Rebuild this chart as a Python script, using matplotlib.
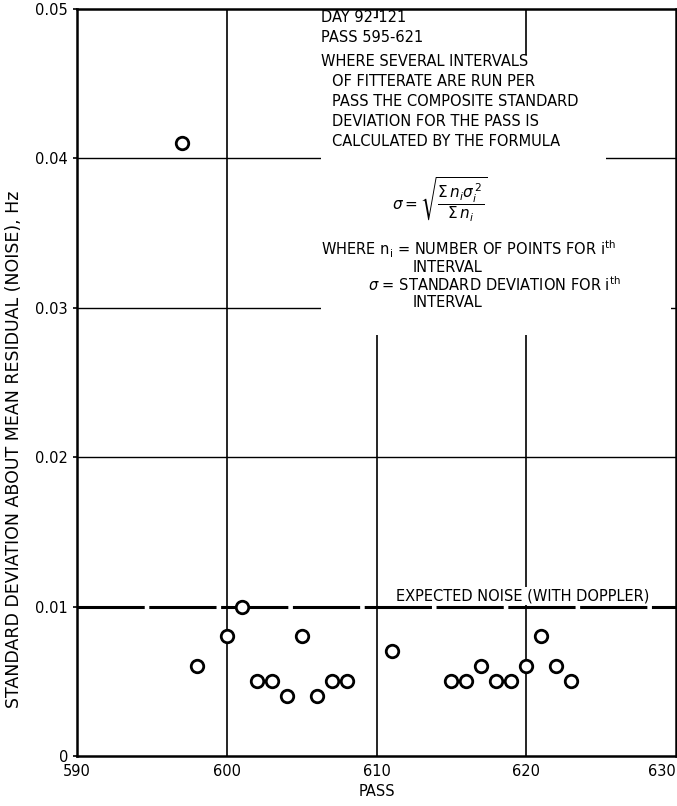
import matplotlib
matplotlib.use('Agg')
import matplotlib.pyplot as plt
from matplotlib.patches import Rectangle

plt.rcParams['font.family'] = ['DejaVu Sans']
plt.rcParams['mathtext.fontset'] = 'dejavusans'

# data
passes = [597, 598, 600, 601, 602, 603, 604, 605, 606, 607, 608, 611,
          615, 616, 617, 618, 619, 620, 621, 622, 623]
noise = [0.041, 0.006, 0.008, 0.010, 0.005, 0.005, 0.004, 0.008, 0.004, 0.005, 0.005, 0.007,
         0.005, 0.005, 0.006, 0.005, 0.005, 0.006, 0.008, 0.006, 0.005]
expected_noise = 0.01
x_ticks = [590, 600, 610, 620, 630]
y_ticks = [0, 0.01, 0.02, 0.03, 0.04, 0.05]
y_tick_labels = ['0', '0.01', '0.02', '0.03', '0.04', '0.05']

fig = plt.figure(figsize=(6.77, 8.06), dpi=100)
ax = fig.add_axes([0.1137, 0.062, 0.885, 0.927])

ax.set_xlim(590, 630)
ax.set_ylim(0, 0.05)

# grid
for xv in x_ticks[1:-1]:
    ax.axvline(xv, color='black', lw=1.2, zorder=1)
for yv in y_ticks[2:-1]:
    ax.axhline(yv, color='black', lw=1.0, zorder=1)

# white area behind the note
for x0, y0, w, h in [(0.408, 0.5636, 0.34, 0.4245),
                     (0.748, 0.5636, 0.135, 0.375),
                     (0.883, 0.5636, 0.108, 0.214)]:
    ax.add_patch(Rectangle((x0, y0), w, h, transform=ax.transAxes,
                           facecolor='white', edgecolor='none', zorder=2))

ax.axhline(expected_noise, color='black', lw=2.2, linestyle=(0, (22, 1.5)), zorder=2)
ax.text(611.3, expected_noise + 0.0002, 'EXPECTED NOISE (WITH DOPPLER)', fontsize=10.5,
        ha='left', va='bottom', zorder=4,
        bbox=dict(facecolor='white', edgecolor='none', pad=1))

ax.plot(passes, noise, linestyle='none', marker='o', markersize=9,
        markerfacecolor='white', markeredgecolor='black', markeredgewidth=2,
        zorder=3, clip_on=False)

ax.set_xticks(x_ticks)
ax.set_yticks(y_ticks)
ax.set_yticklabels(y_tick_labels)
ax.get_xticklabels()[-1].set_horizontalalignment('right')
ax.tick_params(labelsize=10.5)
ax.tick_params(axis='x', length=0, pad=6)
ax.tick_params(axis='y', length=3, width=1.2)
for s in ax.spines.values():
    s.set_linewidth(1.8)

ax.set_xlabel('PASS', fontsize=10.5)
ax.xaxis.set_label_coords(0.5, -0.038)
ax.set_ylabel('STANDARD DEVIATION ABOUT MEAN RESIDUAL (NOISE), Hz', fontsize=12.5)
ax.yaxis.set_label_coords(-0.09, 0.41)

# note text
def px(x, y):
    return (x - 77) / 600, (756 - y) / 747

notes = [
    (321, 18, 'DAY 92-121'),
    (321, 38, 'PASS 595-621'),
    (321, 62, 'WHERE SEVERAL INTERVALS'),
    (332, 82, 'OF FITTERATE ARE RUN PER'),
    (332, 102, 'PASS THE COMPOSITE STANDARD'),
    (332, 122, 'DEVIATION FOR THE PASS IS'),
    (332, 142, 'CALCULATED BY THE FORMULA'),
    (321, 249, r'WHERE n$_\mathregular{i}$ = NUMBER OF POINTS FOR i$^\mathregular{th}$'),
    (413, 268, 'INTERVAL'),
    (368, 285, r'$\sigma$ = STANDARD DEVIATION FOR i$^\mathregular{th}$'),
    (413, 303, 'INTERVAL'),
]
for x, y, s in notes:
    ax.text(*px(x, y), s, transform=ax.transAxes, fontsize=10.5,
            ha='left', va='center', zorder=4)

ax.text(*px(440, 200), r'$\sigma = \sqrt{\dfrac{\Sigma\, n_i \sigma_i^{\,2}}{\Sigma\, n_i}}$',
        transform=ax.transAxes, fontsize=11, ha='center', va='center', zorder=4)

plt.savefig('out.png', dpi=100)
